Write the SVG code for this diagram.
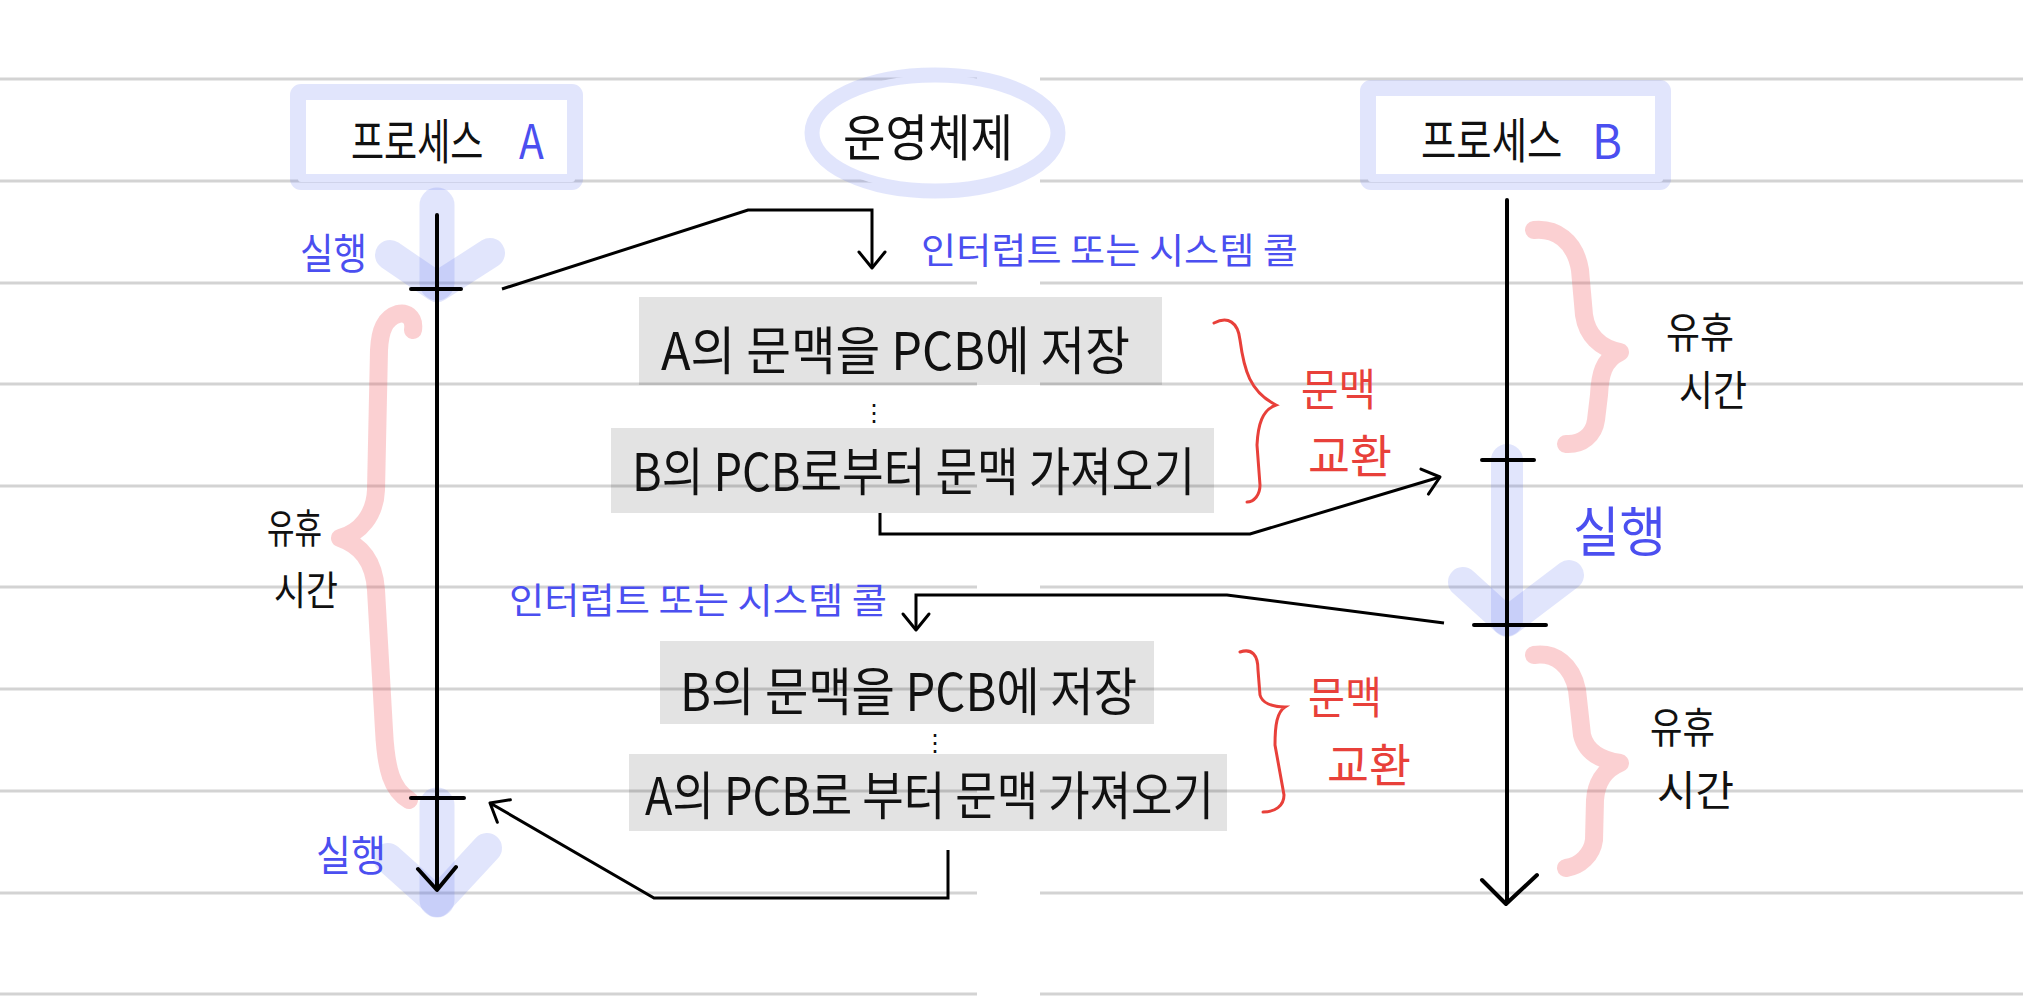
<svg xmlns="http://www.w3.org/2000/svg" width="2023" height="1000" viewBox="0 0 2023 1000">
<style>
text{font-family:"Noto Sans CJK KR","Noto Sans",sans-serif;dominant-baseline:central;}
.k{fill:#111;}
.b{fill:#4b4ff0;}
.r{fill:#e8403a;}
.rule{stroke:#d3d3d3;stroke-width:3;}
.hl{fill:none;stroke:rgba(90,110,240,0.18);stroke-linecap:round;stroke-linejoin:round;}
.pk{fill:none;stroke:rgba(240,80,90,0.27);stroke-width:18;stroke-linecap:round;stroke-linejoin:round;}
.rb{fill:none;stroke:#e8403a;stroke-width:3;stroke-linecap:round;}
.gbox{fill:rgba(0,0,0,0.11);}
.tl{stroke:#000;stroke-width:4;fill:none;stroke-linecap:round;stroke-linejoin:round;}
.cn{stroke:#000;stroke-width:3;fill:none;stroke-linejoin:miter;}
</style>
<defs>
<marker id="ah" markerUnits="userSpaceOnUse" orient="auto" refX="0" refY="0" markerWidth="40" markerHeight="40" viewBox="-20 -20 40 40" overflow="visible">
<path d="M-16,-13 L0,0 L-16,13" fill="none" stroke="#000" stroke-width="3" stroke-linecap="round" stroke-linejoin="round"/>
</marker>
</defs>
<rect width="2023" height="1000" fill="#fff"/>
<g id="rules">
<path class="rule" d="M0,79H977M1040,79H2023M0,181H977M1040,181H2023M0,283H977M1040,283H2023M0,384H977M1040,384H2023M0,486H977M1040,486H2023M0,587H977M1040,587H2023M0,689H977M1040,689H2023M0,791H977M1040,791H2023M0,893H977M1040,893H2023M0,994H977M1040,994H2023"/>
</g>
<g id="processA">
<rect x="298" y="92" width="277" height="90" rx="3" fill="#fff" stroke="rgba(90,110,240,0.18)" stroke-width="16" stroke-linejoin="round"/>
<text transform="translate(351,138) scale(0.75,1)" font-size="48" class="k">프로세스</text>
<text transform="translate(519,138) scale(0.85,1)" font-size="48" class="b">A</text>
</g>
<g id="os">
<ellipse cx="935" cy="133" rx="123" ry="58" fill="#fff" stroke="rgba(90,110,240,0.18)" stroke-width="15"/>
<text x="843" y="134" font-size="50" textLength="170" lengthAdjust="spacingAndGlyphs" class="k">운영체제</text>
</g>
<g id="processB">
<rect x="1368" y="88" width="295" height="94" rx="3" fill="#fff" stroke="rgba(90,110,240,0.18)" stroke-width="16" stroke-linejoin="round"/>
<text transform="translate(1421,138) scale(0.8,1)" font-size="48" class="k">프로세스</text>
<text transform="translate(1592,138) scale(0.95,1)" font-size="48" class="b">B</text>
</g>
<g id="runA1">
<path class="hl" stroke-width="35" d="M437,205V283"/>
<path class="hl" stroke-width="30" d="M390,255L437,287L490,253"/>
<text x="300" y="250" font-size="42" textLength="67" lengthAdjust="spacingAndGlyphs" class="b">실행</text>
</g>
<g id="runA2">
<path class="hl" stroke-width="35" d="M437,805V900"/>
<path class="hl" stroke-width="30" d="M388,858L437,902L487,848"/>
<text x="316" y="852" font-size="42" textLength="70" lengthAdjust="spacingAndGlyphs" class="b">실행</text>
</g>
<g id="runB">
<path class="hl" stroke-width="32" d="M1507,460V620"/>
<path class="hl" stroke-width="30" d="M1463,582L1507,622L1569,575"/>
<text x="1573" y="528" font-size="54" textLength="93" lengthAdjust="spacingAndGlyphs" class="b">실행</text>
</g>
<g id="idleA">
<path class="pk" d="M413,330C415,316 405,312 398,314C385,318 380,330 379,350L376,490C375,515 360,533 340,538C360,545 374,560 376,590L384,730C386,770 392,790 409,800"/>
<text x="267" y="526" font-size="40" textLength="55" lengthAdjust="spacingAndGlyphs" class="k">유휴</text>
<text x="274" y="588" font-size="40" textLength="64" lengthAdjust="spacingAndGlyphs" class="k">시간</text>
</g>
<g id="idleB1">
<path class="pk" d="M1534,230C1555,228 1575,240 1580,270L1584,315C1587,335 1600,348 1620,352C1603,360 1600,375 1599,395L1596,420C1594,435 1582,445 1566,444"/>
<text x="1666" y="329" font-size="42" textLength="68" lengthAdjust="spacingAndGlyphs" class="k">유휴</text>
<text x="1679" y="387" font-size="42" textLength="68" lengthAdjust="spacingAndGlyphs" class="k">시간</text>
</g>
<g id="idleB2">
<path class="pk" d="M1534,655C1555,652 1572,665 1577,690L1582,735C1586,752 1600,760 1620,763C1603,770 1596,785 1595,800L1594,840C1592,855 1580,866 1566,868"/>
<text x="1650" y="724" font-size="42" textLength="65" lengthAdjust="spacingAndGlyphs" class="k">유휴</text>
<text x="1657" y="787" font-size="42" textLength="77" lengthAdjust="spacingAndGlyphs" class="k">시간</text>
</g>
<g id="save1">
<rect class="gbox" x="639" y="297" width="523" height="88"/>
<text x="661" y="347" font-size="52" textLength="469" lengthAdjust="spacingAndGlyphs" class="k">A의 문맥을 PCB에 저장</text>
</g>
<g id="dots1"><text x="874" y="410" font-size="24" text-anchor="middle" class="k">⋮</text></g>
<g id="load1">
<rect class="gbox" x="611" y="428" width="603" height="85"/>
<text x="632" y="468" font-size="52" textLength="563" lengthAdjust="spacingAndGlyphs" class="k">B의 PCB로부터 문맥 가져오기</text>
</g>
<g id="swap1">
<path class="rb" d="M1214,323C1228,316 1238,322 1240,340C1244,370 1250,392 1276,405C1262,410 1258,425 1257,445L1260,485C1260,495 1254,502 1247,502"/>
<text x="1301" y="387" font-size="44" textLength="75" lengthAdjust="spacingAndGlyphs" class="r">문맥</text>
<text x="1308" y="453" font-size="46" textLength="84" lengthAdjust="spacingAndGlyphs" class="r">교환</text>
</g>
<g id="save2">
<rect class="gbox" x="660" y="641" width="494" height="83"/>
<text x="680" y="688" font-size="52" textLength="457" lengthAdjust="spacingAndGlyphs" class="k">B의 문맥을 PCB에 저장</text>
</g>
<g id="dots2"><text x="935" y="740" font-size="24" text-anchor="middle" class="k">⋮</text></g>
<g id="load2">
<rect class="gbox" x="629" y="754" width="598" height="77"/>
<text x="645" y="792" font-size="52" textLength="569" lengthAdjust="spacingAndGlyphs" class="k">A의 PCB로 부터 문맥 가져오기</text>
</g>
<g id="swap2">
<path class="rb" d="M1240,652C1252,648 1258,655 1258,670L1260,695C1262,703 1272,707 1285,707C1277,712 1275,725 1275,745L1284,795C1284,806 1275,812 1263,812"/>
<text x="1308" y="695" font-size="44" textLength="74" lengthAdjust="spacingAndGlyphs" class="r">문맥</text>
<text x="1327" y="762" font-size="46" textLength="84" lengthAdjust="spacingAndGlyphs" class="r">교환</text>
</g>
<g id="timelineA">
<path class="tl" d="M437,215V889M418,869L437,890L456,867M411,289H461M411,798H464"/>
</g>
<g id="timelineB">
<path class="tl" d="M1507,200V903M1482,880L1506,904L1537,875M1482,460H1534M1474,625H1546"/>
</g>
<g id="connectors">
<path class="cn" d="M502,289L748,210H872V268" marker-end="url(#ah)"/>
<text x="921" y="248" font-size="36" textLength="377" lengthAdjust="spacingAndGlyphs" class="b">인터럽트 또는 시스템 콜</text>
<path class="cn" d="M880,513V534H1250L1440,477" marker-end="url(#ah)"/>
<path class="cn" d="M1444,623L1227,595H916V630" marker-end="url(#ah)"/>
<text x="509" y="598" font-size="36" textLength="378" lengthAdjust="spacingAndGlyphs" class="b">인터럽트 또는 시스템 콜</text>
<path class="cn" d="M948,850V898H654L490,803" marker-end="url(#ah)"/>
</g>
</svg>
